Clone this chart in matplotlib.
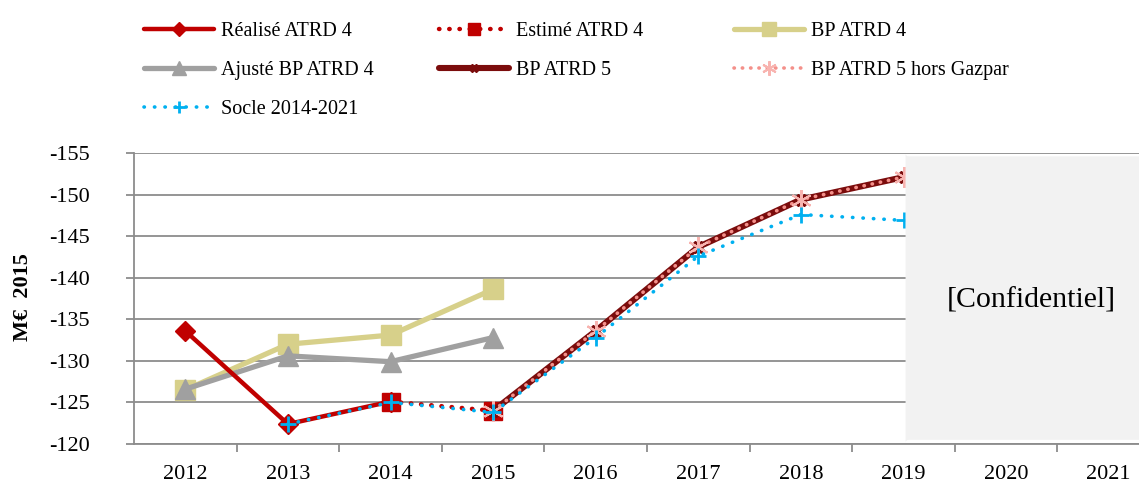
import numpy as np
import matplotlib
matplotlib.use("Agg")
import matplotlib.pyplot as plt
from matplotlib.patches import FancyBboxPatch

years = ['2012', '2013', '2014', '2015', '2016', '2017', '2018', '2019', '2020', '2021']

# series values (index into years)
realise_x = [0, 1, 2]
realise = [-133.6, -122.4, -125.1]
estime_x = [2, 3]
estime = [-125.1, -124.0]
bp4_x = [0, 1, 2, 3]
bp4 = [-126.5, -132.0, -133.1, -138.6]
ajuste_x = [0, 1, 2, 3]
ajuste = [-126.6, -130.6, -129.9, -132.8]
bp5_x = [3, 4, 5, 6, 7]
bp5 = [-124.0, -133.6, -143.7, -149.4, -152.1]
bp5_hg = [-124.0, -133.6, -143.7, -149.4, -152.1]
socle_x = [1, 2, 3, 4, 5, 6, 7]
socle = [-122.4, -125.0, -123.8, -132.8, -142.6, -147.6, -146.9]

plt.rcParams['font.family'] = ['Liberation Serif', 'DejaVu Serif']

fig = plt.figure(figsize=(11.39, 4.87), dpi=100)
ax = fig.add_axes([134/1139, 1-444/487, 1026/1139, 291/487])

lw = 3.2
l_real, = ax.plot(realise_x, realise, color='#C00000', lw=lw, marker='D', ms=10,
                  solid_capstyle='round', zorder=4)
l_est, = ax.plot(estime_x, estime, color='#C00000', lw=lw, ls=(0, (0.1, 2.2)),
                 dash_capstyle='round', marker='s', ms=13, zorder=4)
l_bp4, = ax.plot(bp4_x, bp4, color='#D7D08A', lw=lw + 0.6, marker='s', ms=14,
                 solid_capstyle='round', zorder=3)
l_aj, = ax.plot(ajuste_x, ajuste, color='#A0A0A0', lw=lw + 0.6, marker='^', ms=14,
                solid_capstyle='round', zorder=3)
l_bp5, = ax.plot(bp5_x, bp5, color='#7B0C0C', lw=lw + 1.2, marker='X', ms=9,
                 solid_capstyle='round', zorder=5)
l_hg, = ax.plot(bp5_x, bp5_hg, color='#F4908A', lw=lw - 0.6, ls=(0, (0.1, 2.2)),
                dash_capstyle='round', marker=(6, 2, 0), ms=15, mew=1.5,
                mec='#F8B4B0', zorder=6)
l_soc, = ax.plot(socle_x, socle, color='#00B0F0', lw=lw - 0.6, ls=(0, (0.1, 2.8)),
                 dash_capstyle='round', marker='+', ms=12, mew=2, zorder=7)

ax.set_xlim(-0.5, 9.5)
ax.set_ylim(-120, -155)
ax.set_yticks(np.arange(-155, -119, 5))
ax.set_yticklabels([str(v) for v in range(-155, -119, 5)])
ax.set_xticks(range(len(years)))
ax.set_xticklabels(years)
ax.set_xticks(np.arange(0.5, 9.5, 1), minor=True)
ax.tick_params(axis='x', which='major', length=0, labelsize=16, pad=15)
ax.tick_params(axis='x', which='minor', length=6, width=1.3, color='#8C8C8C', direction='out')
ax.tick_params(axis='y', length=6, width=1.3, color='#8C8C8C', labelsize=16, pad=26)
ax.yaxis.grid(True, color='#8C8C8C', lw=1.3)
ax.set_axisbelow(True)
for s in ['top', 'right']:
    ax.spines[s].set_visible(False)
for s in ['left', 'bottom']:
    ax.spines[s].set_color('#8C8C8C')
    ax.spines[s].set_linewidth(1.3)
ax.set_ylabel('M€  2015', fontsize=16, fontweight='bold')
ax.yaxis.set_label_coords(-0.0984, 0.505)

# confidential box
box = FancyBboxPatch((7.02, -120.5), 2.7, -34.1, boxstyle='round,pad=0,rounding_size=0.03',
                     fc='#F2F2F2', ec='none', zorder=10, mutation_aspect=10)
ax.add_patch(box)
ax.text(8.25, -137.3, '[Confidentiel]', fontsize=21.5, ha='center', va='center', zorder=11)

# legend in three columns
cols = [([l_real, l_aj, l_soc], ['Réalisé ATRD 4', 'Ajusté BP ATRD 4', 'Socle 2014-2021'], 144),
        ([l_est, l_bp5], ['Estimé ATRD 4', 'BP ATRD 5'], 439),
        ([l_bp4, l_hg], ['BP ATRD 4', 'BP ATRD 5 hors Gazpar'], 734)]
for hs, labs, xpx in cols:
    fig.legend(hs, labs, loc='upper left', bbox_to_anchor=(xpx/1139, 1-22/487),
               frameon=False, fontsize=14.5, handlelength=3.5, handletextpad=0.3,
               labelspacing=0.98, borderpad=0, borderaxespad=0, markerscale=0.7)

fig.savefig('out.png', dpi=100)
